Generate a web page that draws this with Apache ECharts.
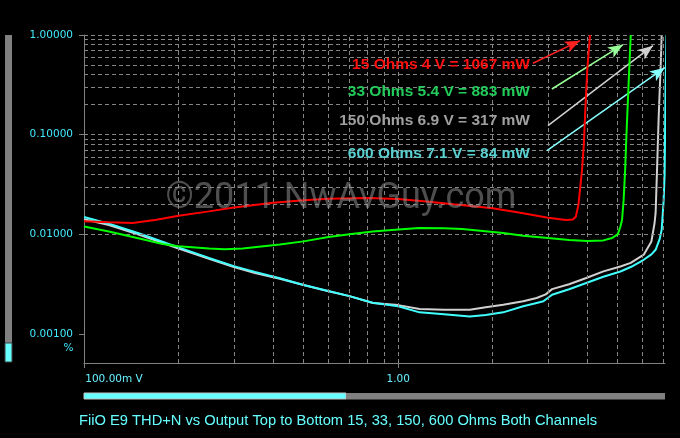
<!DOCTYPE html>
<html><head><meta charset="utf-8">
<script src="https://cdn.jsdelivr.net/npm/echarts@6/dist/echarts.min.js"></script>
<style>html,body{margin:0;padding:0;background:#000}#c{width:680px;height:438px}</style>
</head><body><div id="c"></div>
<script>
// Output voltage (V) vs THD+N (%)
const ohm15 = [[0.1,0.0135],[0.12,0.0132],[0.143,0.0130],[0.17,0.0140],[0.2,0.0154],[0.25,0.0170],[0.3,0.0186],[0.4,0.0207],[0.5,0.0220],[0.6,0.0228],[0.8,0.0231],[1.0,0.0226],[1.23,0.0214],[1.5,0.0200],[2.0,0.0183],[2.5,0.0163],[3.0,0.0147],[3.42,0.0139],[3.6,0.0141],[3.68,0.0151],[3.75,0.0200],[3.8,0.030],[3.85,0.045],[3.9,0.08],[3.94,0.17],[4.0,0.45],[4.08,1.0]];
const ohm33 = [[0.1,0.0120],[0.12,0.0107],[0.15,0.0091],[0.178,0.0080],[0.2,0.0076],[0.25,0.0072],[0.28,0.0071],[0.32,0.0072],[0.36,0.0075],[0.42,0.0079],[0.5,0.0085],[0.6,0.0094],[0.7,0.0100],[0.83,0.0107],[1.0,0.0112],[1.17,0.0116],[1.4,0.0115],[1.6,0.0113],[2.16,0.0103],[2.5,0.0097],[3.0,0.0092],[3.5,0.0088],[4.0,0.0086],[4.5,0.0087],[4.8,0.0092],[5.0,0.0100],[5.1,0.0120],[5.16,0.0140],[5.22,0.022],[5.28,0.045],[5.33,0.10],[5.42,0.35],[5.5,1.0]];
const ohm150 = [[0.1,0.0142],[0.12,0.0124],[0.15,0.0099],[0.2,0.0072],[0.25,0.0057],[0.3,0.0047],[0.35,0.0041],[0.42,0.00359],[0.5,0.0031],[0.6,0.00268],[0.7,0.0024],[0.83,0.00205],[1.0,0.00195],[1.17,0.00178],[1.4,0.00175],[1.69,0.00175],[1.9,0.00186],[2.16,0.00197],[2.5,0.00213],[2.76,0.0023],[2.95,0.0025],[3.09,0.00282],[3.5,0.00316],[3.97,0.00365],[4.5,0.00425],[5.1,0.00476],[5.5,0.00517],[6.05,0.00625],[6.4,0.0085],[6.55,0.013],[6.6,0.0164],[6.67,0.045],[6.75,0.15],[6.85,0.5],[6.9,1.0]];
const ohm600 = [[0.1,0.0149],[0.12,0.0128],[0.15,0.0102],[0.2,0.0074],[0.25,0.0058],[0.3,0.0048],[0.35,0.0042],[0.42,0.00362],[0.5,0.0031],[0.6,0.0027],[0.7,0.0024],[0.83,0.00206],[1.0,0.0019],[1.17,0.00165],[1.4,0.00158],[1.69,0.0015],[1.9,0.00155],[2.16,0.00165],[2.5,0.0019],[2.76,0.00205],[2.9,0.00213],[3.09,0.00248],[3.5,0.00281],[3.97,0.00325],[4.5,0.00375],[5.1,0.00424],[5.5,0.0047],[6.05,0.00556],[6.4,0.0063],[6.6,0.0070],[6.8,0.0090],[6.9,0.0111],[7.0,0.022],[7.05,0.04],[7.1,0.3],[7.15,1.0]];

const xTickValues = [0.1, 1];
const yTickValues = [0.001, 0.01, 0.1, 1];
const xGridValues = [0.2,0.3,0.4,0.5,0.6,0.7,0.8,0.9,1,2,3,4,5,6,7];
const yGridValues = [0.0006,0.0007,0.0008,0.0009,0.001,0.002,0.003,0.004,0.005,0.006,0.007,0.008,0.009,0.01,0.02,0.03,0.04,0.05,0.06,0.07,0.08,0.09,0.1,0.2,0.3,0.4,0.5,0.6,0.7,0.8,0.9,1];

const annotations = [
  {text:'15 Ohms 4 V = 1067 mW', color:'#ff1010', arrow:'#ff2020', from:[2.685,0.521], to:[3.79,0.877]},
  {text:'33 Ohms 5.4 V = 883 mW', color:'#22cc5a', arrow:'#99ff99', from:[3.086,0.2872], to:[5.195,0.7993]},
  {text:'150 Ohms 6.9 V = 317 mW', color:'#a0a0a0', arrow:'#d0d0d0', from:[2.998,0.123], to:[6.473,0.781]},
  {text:'600 Ohms 7.1 V = 84 mW', color:'#5ad0d0', arrow:'#88ffff', from:[2.976,0.0691], to:[7.06,0.4697]}
];
const annotY = [64.3, 91.7, 120.7, 153.3];

const chart = echarts.init(document.getElementById('c'), null, {renderer:'canvas'});
const gridColor = '#868686';
const isDecade = v => Math.abs(Math.log10(v) - Math.round(Math.log10(v))) < 1e-6;

function curve(name, data, color, z){
  return {name, type:'line', data, showSymbol:false, symbol:'none', z, clip:true,
    lineStyle:{color, width:2}, itemStyle:{color}, animation:false, silent:true};
}

const option = {
  backgroundColor:'#000',
  animation:false,
  title:{text:'FiiO E9 THD+N vs Output Top to Bottom 15, 33, 150, 600 Ohms Both Channels',
    left:79, top:413, padding:0,
    textStyle:{color:'#66ffff', fontFamily:'Liberation Sans', fontSize:14.7, fontWeight:'normal'}},
  grid:{left:84, right:15, top:35, bottom:75, containLabel:false, outerBoundsMode:'none'},
  xAxis:{type:'log', logBase:10, min:0.1, max:7.07,
    axisLine:{show:true, lineStyle:{color:'#808080', width:1}},
    axisTick:{show:true, length:5, lineStyle:{color:'#808080'}, customValues:xTickValues},
    minorTick:{show:false}, splitLine:{show:false},
    axisLabel:{show:true, margin:11, color:'#66f0ff', fontFamily:'DejaVu Sans', fontSize:10.5,
      customValues:xTickValues,
      formatter:v => { if(!isDecade(v)) return ''; if (Math.abs(v-0.1)<1e-9) return '{a|100.00m V}'; return v.toFixed(2); },
      rich:{a:{color:'#66f0ff', fontFamily:'DejaVu Sans', fontSize:10.5, padding:[0,0,0,60]}}}},
  yAxis:{type:'log', logBase:10, min:0.000512, max:1,
    axisLine:{show:true, lineStyle:{color:'#808080', width:1}},
    axisTick:{show:true, length:5, lineStyle:{color:'#808080'}, customValues:yTickValues},
    minorTick:{show:false}, splitLine:{show:false},
    axisLabel:{show:true, margin:11, color:'#40eaff', fontFamily:'DejaVu Sans', fontSize:10.5,
      customValues:yTickValues,
      formatter:v => isDecade(v) ? v.toFixed(5) : ''}},
  graphic:[
    {type:'rect', shape:{x:5, y:35, width:7, height:308}, style:{fill:'#808080'}, silent:true},
    {type:'rect', shape:{x:5, y:343, width:7, height:19}, style:{fill:'#66ffff', stroke:'#404040', lineWidth:1}, silent:true},
    {type:'rect', shape:{x:84, y:393, width:262, height:6}, style:{fill:'#66ffff', stroke:'#c0c0c0', lineWidth:1}, silent:true},
    {type:'rect', shape:{x:346, y:393, width:319, height:6.5}, style:{fill:'#808080'}, silent:true},
    {type:'text', x:73.5, y:348, style:{text:'%', fill:'#40eaff', font:'10.5px "DejaVu Sans"', textAlign:'right', textVerticalAlign:'middle'}, silent:true},
    {type:'text', x:341, y:199, z:100, style:{text:'\u00A92011 NwAvGuy.com', fill:'rgba(150,150,150,0.52)', font:'36px Roboto', textAlign:'center', textVerticalAlign:'middle'}, silent:true}
  ].concat(annotations.map((a,i)=>({type:'text', x:530, y:annotY[i], z:50,
    style:{text:a.text, fill:a.color, font:'bold 15.5px "Liberation Sans"', textAlign:'right', textVerticalAlign:'middle'}, silent:true}))),
  series:[
    {type:'line', data:[], z:1, silent:true, animation:false,
      markLine:{silent:true, animation:false, symbol:['none','none'], label:{show:false},
        lineStyle:{color:gridColor, type:[4,3], width:1},
        data: xGridValues.map(v=>({xAxis:v})).concat(yGridValues.map(v=>({yAxis:v})))}},
    curve('150 Ohms', ohm150, '#d0d0d0', 3),
    curve('600 Ohms', ohm600, '#40ffff', 4),
    curve('33 Ohms', ohm33, '#00ff00', 5),
    curve('15 Ohms', ohm15, '#ff0000', 6),
    {type:'line', data:[], z:10, silent:true, animation:false,
      markLine:{silent:true, animation:false, symbol:['none','arrow'], symbolSize:[9,15], label:{show:false},
        data: annotations.map(a=>[{coord:a.from, lineStyle:{color:a.arrow, width:1.5, type:'solid'}, itemStyle:{color:a.arrow}},{coord:a.to}])}}
  ]
};
chart.setOption(option);
</script></body></html>
